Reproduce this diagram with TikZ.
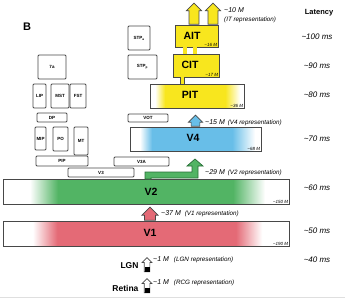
\documentclass[tikz,border=0pt]{standalone}
\usepackage{fontspec}
\setmainfont{Liberation Sans}
\usepackage{xcolor}
\usepackage{tikz}
\usetikzlibrary{arrows.meta,positioning,shapes.arrows}

\definecolor{itYellow}{RGB}{248,230,30}
\definecolor{vfourBlue}{RGB}{104,190,232}
\definecolor{vtwoGreen}{RGB}{82,180,100}
\definecolor{voneRed}{RGB}{228,106,118}
\definecolor{edge}{RGB}{72,72,72}
\definecolor{greenEdge}{RGB}{40,110,55}
\newcommand{\apx}{\textasciitilde}

% fade in, flat, fade out (box spans 25bp..75bp)
\pgfdeclarehorizontalshading{pitshade}{100bp}{color(0bp)=(white); color(27.7bp)=(white); color(33bp)=(itYellow); color(65bp)=(itYellow); color(72.9bp)=(white); color(100bp)=(white)}
\pgfdeclarehorizontalshading{vfourshade}{100bp}{color(0bp)=(white); color(28.8bp)=(white); color(33.4bp)=(vfourBlue); color(64bp)=(vfourBlue); color(72.7bp)=(white); color(100bp)=(white)}
\pgfdeclarehorizontalshading{vtwoshade}{100bp}{color(0bp)=(white); color(29.7bp)=(white); color(34.6bp)=(vtwoGreen); color(65.2bp)=(vtwoGreen); color(70.8bp)=(white); color(100bp)=(white)}
\pgfdeclarehorizontalshading{voneshade}{100bp}{color(0bp)=(white); color(30.2bp)=(white); color(34.5bp)=(voneRed); color(65.7bp)=(voneRed); color(70.3bp)=(white); color(100bp)=(white)}

\begin{document}
\begin{tikzpicture}[x=1pt, y=-1pt,
  box/.style={draw=edge, line width=0.9pt, rounded corners=1pt, inner sep=0pt, font=\fontsize{4.5}{5}\selectfont\bfseries},
  itbox/.style={draw=edge, line width=0.9pt, fill=itYellow, inner sep=0pt},
  area/.style={draw=edge, line width=0.9pt, inner sep=0pt, shade},
  arealab/.style={font=\fontsize{10.5}{12}\selectfont\bfseries},
  cnt/.style={font=\fontsize{4.5}{5}\selectfont\itshape, anchor=south east, inner sep=1.2pt},
  rep/.style={font=\fontsize{7}{8}\selectfont\itshape, anchor=west, inner sep=0pt},
  paren/.style={font=\fontsize{6.3}{7}\selectfont\itshape},
  lat/.style={font=\fontsize{8}{9}\selectfont\itshape},
  upa/.style={single arrow, draw=edge, line width=0.7pt, inner xsep=0pt, rotate=90, anchor=tail, single arrow head extend=2pt},
  stub/.style={double=itYellow, double distance=3.5pt, draw=edge, line width=0.7pt}
]
\useasboundingbox (0,0) rectangle (345,300);
\node[font=\fontsize{11}{12}\selectfont\bfseries] (panel) at (27,27) {B};

% small areas
\node[box, minimum width=22, minimum height=24] (stpa) at (139,38) {STP\textsubscript{a}};
\node[box, minimum width=29, minimum height=24] (stpp) at (142.5,67) {STP\textsubscript{p}};
\node[box, minimum width=28, minimum height=24] (sevena) at (52,67) {7a};
\node[box, minimum width=13, minimum height=24] (lip) at (39.5,96) {LIP};
\node[box, minimum width=18, minimum height=24] (mst) at (60,96) {MST};
\node[box, minimum width=16, minimum height=24] (fst) at (78,96) {FST};
\node[box, minimum width=30, minimum height=9] (dp) at (52,117.5) {DP};
\node[box, minimum width=40, minimum height=8] (vot) at (148,118) {VOT};
\node[box, minimum width=11, minimum height=23] (mip) at (40.5,138.5) {MIP};
\node[box, minimum width=15, minimum height=24] (po) at (60.5,139) {PO};
\node[box, minimum width=14, minimum height=28] (mt) at (81,141) {MT};
\node[box, minimum width=52, minimum height=10] (pip) at (62,161) {PIP};
\node[box, minimum width=55, minimum height=9] (vthreea) at (141.5,161.5) {V3A};
\node[box, minimum width=66, minimum height=9] (vthree) at (101,172.5) {V3};

% ventral stream
\node[itbox, minimum width=43, minimum height=22] (ait) at (196.5,36) {};
\node[itbox, minimum width=46, minimum height=23] (cit) at (196,65.5) {};
\node[area, shading=pitshade, minimum width=94, minimum height=24] (pit) at (197,96) {};
\node[area, shading=vfourshade, minimum width=131, minimum height=24] (v4) at (195.5,139) {};
\node[area, shading=vtwoshade, minimum width=286, minimum height=25] (v2) at (146,191.5) {};
\node[area, shading=voneshade, minimum width=286, minimum height=25] (v1) at (146,233.5) {};

\node[arealab] (aitlab) at (192,36) {AIT};
\node[arealab] (citlab) at (190,65) {CIT};
\node[arealab] (pitlab) at (190,95) {PIT};
\node[arealab] (v4lab) at (193,138) {V4};
\node[arealab] (v2lab) at (151,192) {V2};
\node[arealab] (v1lab) at (150,233) {V1};
\node[cnt] at (ait.south east) {\apx16 M};
\node[cnt] at (cit.south east) {\apx17 M};
\node[cnt] at (pit.south east) {\apx36 M};
\node[cnt] at (v4.south east) {\apx68 M};
\node[cnt] at (v2.south east) {\apx150 M};
\node[cnt] at (v1.south east) {\apx190 M};

\draw[stub] ([xshift=-11.5]ait.south) -- ([xshift=-11.5]ait.south |- cit.north);
\draw[stub] ([xshift=-1.5]ait.south) -- ([xshift=-1.5]ait.south |- cit.north);
\draw[stub] ([xshift=-13.5]cit.south) -- ([xshift=-13.5]cit.south |- pit.north);

% outputs
\node[upa, fill=itYellow, inner ysep=3.5pt, minimum height=21, minimum width=15] (itA) at ([xshift=-2.5]ait.north) {};
\node[upa, fill=itYellow, inner ysep=3.5pt, minimum height=21, minimum width=15] (itB) at ([xshift=16.5]ait.north) {};
\node[upa, fill=vfourBlue, inner ysep=3pt, minimum height=11, minimum width=14] (v4out) at (v4.north) {};
\draw[fill=vtwoGreen, draw=greenEdge, line width=0.7pt] (145,179) -- (145,172) -- (192,172) -- (192,166) -- (187,166) -- (195,159) -- (203,166) -- (198,166) -- (198,178) -- (151,178) -- (151,179) -- cycle;
\node[upa, fill=voneRed, inner ysep=4pt, minimum height=13, minimum width=16] (v1out) at ([xshift=4]v1.north) {};
\node[upa, fill=white, inner ysep=2.5pt, minimum height=14, minimum width=9] (lgnout) at (147,272) {};
\node[upa, fill=white, inner ysep=2.5pt, minimum height=14, minimum width=9] (retout) at (147,293) {};
\fill[black] ([xshift=-2.5]lgnout.tail) rectangle ([xshift=2.5,yshift=5]lgnout.tail);
\fill[black] ([xshift=-2.5]retout.tail) rectangle ([xshift=2.5,yshift=5]retout.tail);

\node[font=\fontsize{8.5}{9}\selectfont\bfseries, anchor=east] (lgn) at (142,266) {LGN};
\node[font=\fontsize{8.5}{9}\selectfont\bfseries, anchor=east] (retina) at (142,288) {Retina};

% representation sizes
\node[rep] (itrep) at (224,10) {\apx10 M};
\node[rep, paren] (itrepb) at (224,20) {(IT representation)};
\node[rep] (v4rep) at (205,123) {\apx15 M\hspace{3pt}{\fontsize{6.3}{7}\selectfont(V4 representation)}};
\node[rep] (v2rep) at (205,173) {\apx29 M\hspace{3pt}{\fontsize{6.3}{7}\selectfont(V2 representation)}};
\node[rep] (v1rep) at (161,214) {\apx37 M\hspace{4pt}{\fontsize{6.3}{7}\selectfont(V1 representation)}};
\node[rep] (lgnrep) at (153,260) {\apx1 M\hspace{5pt}{\fontsize{6.3}{7}\selectfont(LGN representation)}};
\node[rep] (retrep) at (153,283) {\apx1 M\hspace{5pt}{\fontsize{6.3}{7}\selectfont(RCG representation)}};

% latency
\node[font=\fontsize{7.5}{8}\selectfont\bfseries] (latency) at (319,13) {Latency};
\node[lat] (l100) at (317,37) {\apx100 ms};
\node[lat] (l90) at (317,66) {\apx90 ms};
\node[lat] (l80) at (317,95) {\apx80 ms};
\node[lat] (l70) at (317,139) {\apx70 ms};
\node[lat] (l60) at (317,188) {\apx60 ms};
\node[lat] (l50) at (317,231) {\apx50 ms};
\node[lat] (l40) at (317,260) {\apx40 ms};

\draw[gray!25] (0,297) -- (345,297);
\end{tikzpicture}
\end{document}
